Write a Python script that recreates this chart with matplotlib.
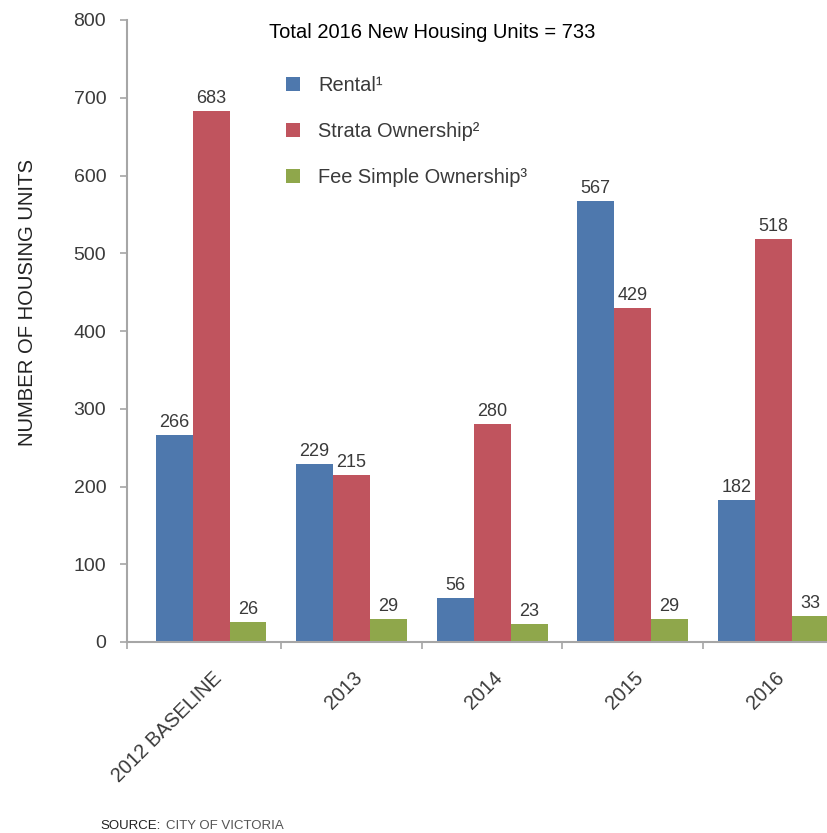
import numpy as np
import matplotlib
matplotlib.use("Agg")
import matplotlib.pyplot as plt
from matplotlib.transforms import ScaledTranslation

categories = ["2012 BASELINE", "2013", "2014", "2015", "2016"]
rental = [266, 229, 56, 567, 182]
strata = [683, 215, 280, 429, 518]
fee_simple = [26, 29, 23, 29, 33]
series_names = ["Rental\u00b9", "Strata Ownership\u00b2", "Fee Simple Ownership\u00b3"]
y_ticks = [0, 100, 200, 300, 400, 500, 600, 700, 800]

colors = ["#4E78AD", "#C0545E", "#8FA74B"]
axis_grey = "#A6A6A6"
text_grey = "#3A3A3A"

plt.rcParams["font.family"] = ["Liberation Sans", "DejaVu Sans"]

fig = plt.figure(figsize=(8.28, 8.33), dpi=100)
W, H = 828, 833
ax = fig.add_axes([127 / W, 1 - 642 / H, 701 / W, 622 / H])

x = np.arange(len(categories))
w = 0.263
for i, vals in enumerate([rental, strata, fee_simple]):
    bars = ax.bar(x + (i - 1) * w, vals, width=w, color=colors[i],
                  label=series_names[i], zorder=2, clip_on=False)
    ax.bar_label(bars, padding=3, fontsize=13, color=text_grey)

ax.set_xlim(-0.598, 4.39)
ax.set_ylim(0, 800)

for side in ["top", "right"]:
    ax.spines[side].set_visible(False)
for side in ["left", "bottom"]:
    ax.spines[side].set_color(axis_grey)
    ax.spines[side].set_linewidth(1.5)

ax.set_yticks(y_ticks)
ax.set_yticklabels([str(v) for v in y_ticks])
ax.tick_params(axis="y", direction="out", length=5, width=1.2, color=axis_grey,
               labelsize=14, labelcolor=text_grey, pad=10)

# category labels at group centres, tick marks between the groups
ax.set_xticks(x)
ax.set_xticklabels(categories, rotation=45, ha="right", va="top",
                   rotation_mode="anchor")
ax.set_xticks([-0.598, 0.5, 1.5, 2.5, 3.5], minor=True)
ax.tick_params(axis="x", which="major", length=0, labelsize=14.3,
               labelcolor=text_grey, pad=19)
ax.tick_params(axis="x", which="minor", direction="out", length=5, width=1.2,
               color=axis_grey)
shift = ScaledTranslation(1 / 100, 0, fig.dpi_scale_trans)
for lab in ax.get_xticklabels():
    lab.set_transform(lab.get_transform() + shift)

fig.text(432 / W, 1 - 32 / H, "Total 2016 New Housing Units = 733",
         ha="center", va="center", fontsize=14.5, color="black")

leg = ax.legend(loc="upper left", bbox_to_anchor=(286 / W, 1 - 76 / H),
                bbox_transform=fig.transFigure, frameon=False, fontsize=14.4,
                handlelength=0.7, handleheight=0.7, handletextpad=0.9,
                labelspacing=1.35, borderpad=0, borderaxespad=0)
for t in leg.get_texts():
    t.set_color(text_grey)

fig.text(28 / W, 1 - 302 / H, "NUMBER OF HOUSING UNITS", rotation=90,
         ha="center", va="center", fontsize=14.6, color="#222222")

fig.text(100 / W, 1 - 826 / H, "SOURCE:", ha="left", va="center",
         fontsize=9.5, color="#222222")
fig.text(166 / W, 1 - 826 / H, "CITY OF VICTORIA", ha="left", va="center",
         fontsize=9.5, color="#555555")

fig.savefig("out.png", dpi=100)
